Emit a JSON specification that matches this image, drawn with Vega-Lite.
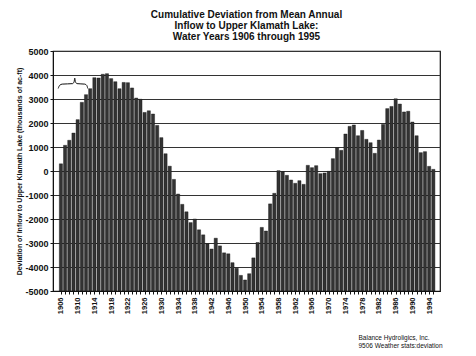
{
  "$schema": "https://vega.github.io/schema/vega-lite/v6.json",
  "width": 387,
  "height": 240,
  "autosize": {"type": "none"},
  "padding": {"left": 53, "top": 51, "right": 36, "bottom": 65},
  "background": "white",
  "config": {
    "font": "Liberation Sans",
    "view": {"stroke": "#111", "strokeWidth": 1.2}
  },
  "title": {
    "text": ["Cumulative Deviation from Mean Annual", "Inflow to Upper Klamath Lake:", "Water Years 1906 through 1995"],
    "font": "Liberation Sans",
    "fontSize": 10,
    "fontWeight": "bold",
    "lineHeight": 11,
    "anchor": "middle",
    "offset": 5,
    "color": "#111"
  },
  "datasets": {
    "bars": [
      {"year": 1906, "value": 300}, {"year": 1907, "value": 1070}, {"year": 1908, "value": 1280}, {"year": 1909, "value": 1580},
      {"year": 1910, "value": 2140}, {"year": 1911, "value": 2860}, {"year": 1912, "value": 3180}, {"year": 1913, "value": 3430},
      {"year": 1914, "value": 3890}, {"year": 1915, "value": 3875}, {"year": 1916, "value": 4030}, {"year": 1917, "value": 4055},
      {"year": 1918, "value": 3850}, {"year": 1919, "value": 3720}, {"year": 1920, "value": 3430}, {"year": 1921, "value": 3690},
      {"year": 1922, "value": 3680}, {"year": 1923, "value": 3460}, {"year": 1924, "value": 3040}, {"year": 1925, "value": 2990},
      {"year": 1926, "value": 2440}, {"year": 1927, "value": 2510}, {"year": 1928, "value": 2375}, {"year": 1929, "value": 1900},
      {"year": 1930, "value": 1390}, {"year": 1931, "value": 720}, {"year": 1932, "value": 200}, {"year": 1933, "value": -350},
      {"year": 1934, "value": -960}, {"year": 1935, "value": -1390}, {"year": 1936, "value": -1700}, {"year": 1937, "value": -2150},
      {"year": 1938, "value": -2000}, {"year": 1939, "value": -2450}, {"year": 1940, "value": -2660}, {"year": 1941, "value": -3030},
      {"year": 1942, "value": -3250}, {"year": 1943, "value": -2800}, {"year": 1944, "value": -3120}, {"year": 1945, "value": -3410},
      {"year": 1946, "value": -3450}, {"year": 1947, "value": -3820}, {"year": 1948, "value": -4050}, {"year": 1949, "value": -4350},
      {"year": 1950, "value": -4540}, {"year": 1951, "value": -4280}, {"year": 1952, "value": -3620}, {"year": 1953, "value": -2980},
      {"year": 1954, "value": -2350}, {"year": 1955, "value": -2500}, {"year": 1956, "value": -1370}, {"year": 1957, "value": -930},
      {"year": 1958, "value": 14}, {"year": 1959, "value": -28}, {"year": 1960, "value": -180}, {"year": 1961, "value": -375},
      {"year": 1962, "value": -514}, {"year": 1963, "value": -403}, {"year": 1964, "value": -556}, {"year": 1965, "value": 236},
      {"year": 1966, "value": 139}, {"year": 1967, "value": 222}, {"year": 1968, "value": -111}, {"year": 1969, "value": -83},
      {"year": 1970, "value": -14}, {"year": 1971, "value": 514}, {"year": 1972, "value": 972}, {"year": 1973, "value": 861},
      {"year": 1974, "value": 1540}, {"year": 1975, "value": 1860}, {"year": 1976, "value": 1917}, {"year": 1977, "value": 1470},
      {"year": 1978, "value": 1690}, {"year": 1979, "value": 1320}, {"year": 1980, "value": 1180}, {"year": 1981, "value": 736},
      {"year": 1982, "value": 1290}, {"year": 1983, "value": 1940}, {"year": 1984, "value": 2600}, {"year": 1985, "value": 2690},
      {"year": 1986, "value": 3010}, {"year": 1987, "value": 2790}, {"year": 1988, "value": 2460}, {"year": 1989, "value": 2490},
      {"year": 1990, "value": 2040}, {"year": 1991, "value": 1470}, {"year": 1992, "value": 764}, {"year": 1993, "value": 806},
      {"year": 1994, "value": 194}, {"year": 1995, "value": 69}
    ],
    "brace": [
      {"year": 1905.35, "value": 3440}, {"year": 1905.7, "value": 3570}, {"year": 1906.3, "value": 3620},
      {"year": 1908.8, "value": 3640}, {"year": 1909.15, "value": 3720}, {"year": 1909.3, "value": 3870},
      {"year": 1909.45, "value": 3720}, {"year": 1909.85, "value": 3640}, {"year": 1911.7, "value": 3620},
      {"year": 1912.2, "value": 3560}, {"year": 1912.4, "value": 3440}
    ]
  },
  "layer": [
    {
      "data": {"name": "bars"},
      "mark": {"type": "bar", "size": 3.2, "color": "#333", "stroke": "#111", "strokeWidth": 0.4},
      "encoding": {
        "x": {
          "field": "year",
          "type": "quantitative",
          "scale": {"domain": [1905.3, 1995.4], "nice": false, "zero": false},
          "axis": {
            "values": [1906,1907,1908,1909,1910,1911,1912,1913,1914,1915,1916,1917,1918,1919,1920,1921,1922,1923,1924,1925,1926,1927,1928,1929,1930,1931,1932,1933,1934,1935,1936,1937,1938,1939,1940,1941,1942,1943,1944,1945,1946,1947,1948,1949,1950,1951,1952,1953,1954,1955,1956,1957,1958,1959,1960,1961,1962,1963,1964,1965,1966,1967,1968,1969,1970,1971,1972,1973,1974,1975,1976,1977,1978,1979,1980,1981,1982,1983,1984,1985,1986,1987,1988,1989,1990,1991,1992,1993,1994,1995],
            "tickCount": 200,
            "labelExpr": "(datum.value - 1906) % 4 == 0 ? toString(datum.value) : ''",
            "labelAngle": 270,
            "labelFontSize": 7.5,
            "labelFontWeight": "bold",
            "labelColor": "#111",
            "labelPadding": 3,
            "labelOverlap": false,
            "labelFlush": false,
            "tickSize": 3,
            "tickColor": "#111",
            "domainColor": "#111",
            "grid": false,
            "title": ["Balance Hydroligics, Inc.", "9506 Weather stats:deviation"],
            "titleFontSize": 6.5,
            "titleFontWeight": "normal",
            "titleColor": "#111",
            "titleAnchor": "start",
            "titleAlign": "left",
            "titleBaseline": "alphabetic",
            "titleLineHeight": 8,
            "titleX": 305,
            "titleY": 48
          }
        },
        "y": {
          "field": "value",
          "type": "quantitative",
          "scale": {"domain": [-5000, 5000], "nice": false, "zero": false},
          "axis": {
            "values": [-5000,-4000,-3000,-2000,-1000,0,1000,2000,3000,4000,5000],
            "tickCount": 50,
            "labelExpr": "replace(datum.label, '\u2212', '-')",
            "format": "d",
            "labelFontSize": 9,
            "labelFontWeight": "bold",
            "labelColor": "#111",
            "labelPadding": 2,
            "labelOverlap": false,
            "tickSize": 3,
            "tickColor": "#111",
            "domainColor": "#111",
            "grid": true,
            "gridColor": "#333",
            "gridWidth": 1,
            "title": "Deviation of Inflow to Upper Klamath Lake (thousands of ac-ft)",
            "titleFontSize": 7,
            "titleFontWeight": "bold",
            "titleColor": "#111",
            "titlePadding": 2
          }
        },
        "y2": {"datum": -5000}
      }
    },
    {
      "data": {"name": "brace"},
      "mark": {"type": "line", "color": "#111", "strokeWidth": 1, "interpolate": "monotone"},
      "encoding": {
        "x": {"field": "year", "type": "quantitative"},
        "y": {"field": "value", "type": "quantitative"}
      }
    }
  ]
}
